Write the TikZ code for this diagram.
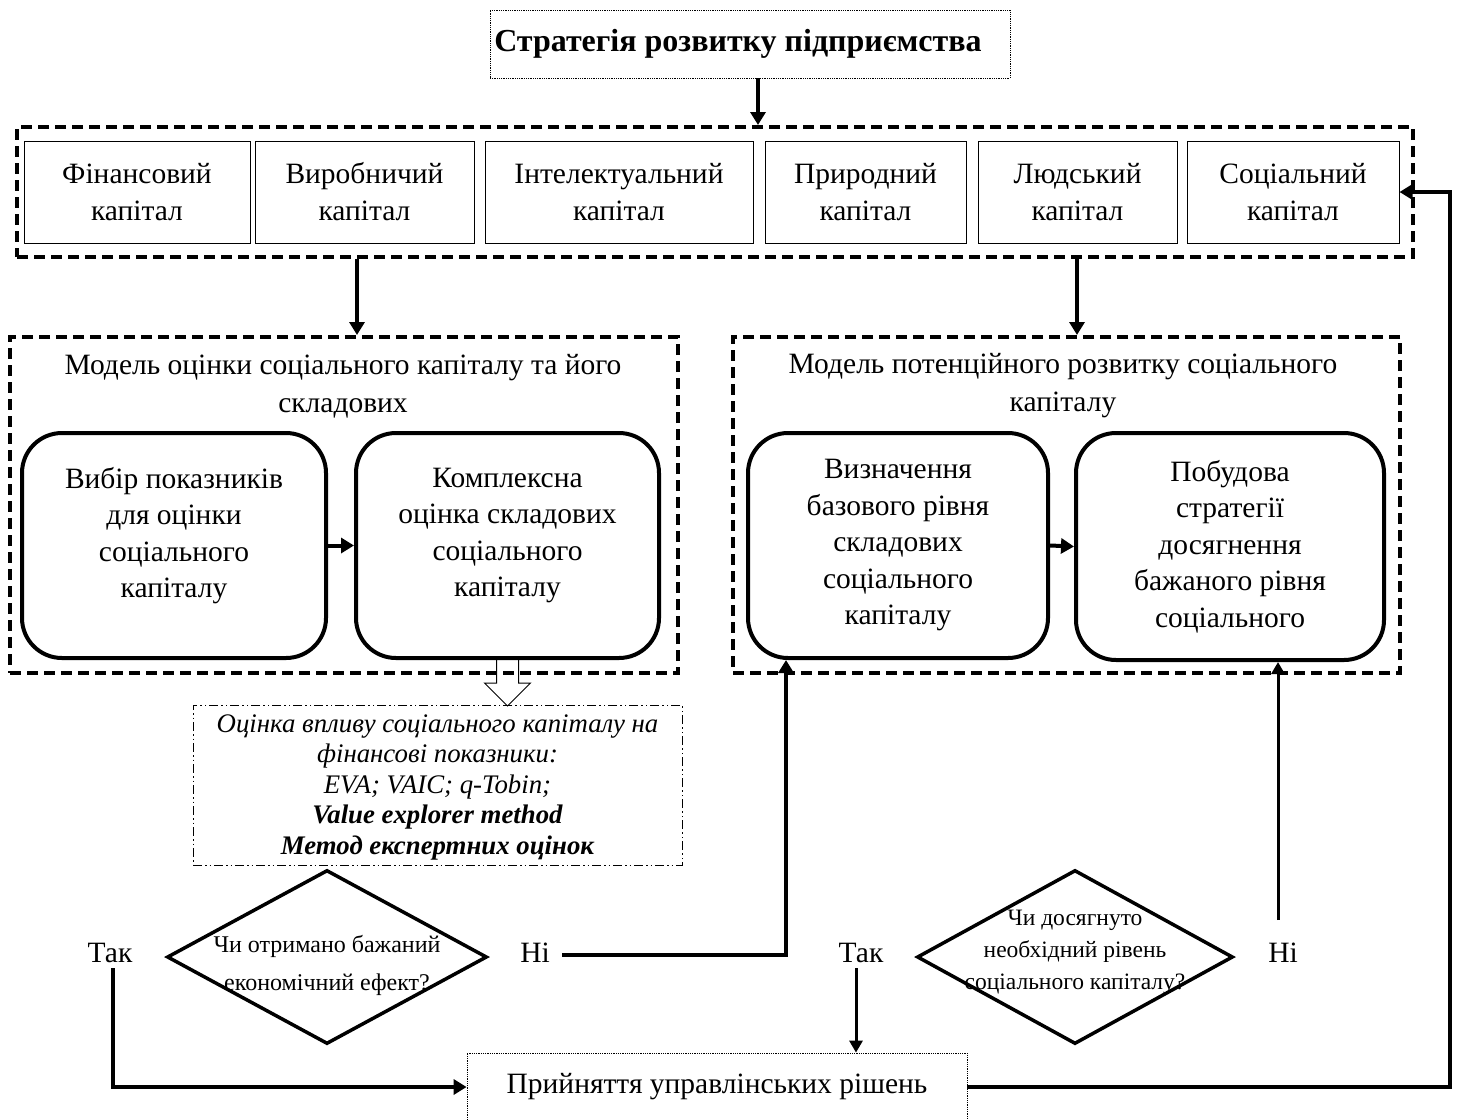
\documentclass[tikz,border=0pt]{standalone}
\usepackage{fontspec}
\setmainfont{Liberation Serif}
\usetikzlibrary{arrows.meta,shapes.geometric,calc}
\tikzset{
  txt/.style={font=\fontsize{29.5}{37}\selectfont, align=center, inner sep=0pt},
  capbox/.style={txt, draw, line width=1pt, minimum height=102pt},
  dotbox/.style={draw, densely dotted, line width=0.8pt, inner sep=0pt},
  dashbox/.style={draw, line width=4pt, dash pattern=on 11pt off 6pt, inner sep=0pt},
  rbox/.style={txt, draw, line width=4pt, rounded corners=40pt, font=\fontsize{29.5}{36.5}\selectfont},
  ddbox/.style={draw, line width=1pt, dash pattern=on 9pt off 3pt on 1.5pt off 3pt on 1.5pt off 3pt, inner sep=0pt},
  diam/.style={diamond, draw, line width=3.5pt, inner sep=0pt, font=\fontsize{24}{38}\selectfont, align=center},
  arr/.style={line width=4pt, -{Triangle[length=13pt,width=15pt]}},
  arrthin/.style={line width=3pt, -{Triangle[length=12pt,width=13pt]}},
}
\begin{document}
\begin{tikzpicture}[x=1pt,y=-1pt]
\useasboundingbox (0,0) rectangle (1458,1119);

% top
\node[dotbox, minimum width=520pt, minimum height=68pt, font=\fontsize{32}{38}\selectfont\bfseries] (top) at (750,44) {\kern-24pt Стратегія розвитку підприємства};

% capitals
\node[dashbox, minimum width=1396pt, minimum height=130pt] (capdash) at (715,192) {};
\node[capbox, minimum width=226pt] (c1) at (137,192) {Фінансовий\\капітал};
\node[capbox, minimum width=219pt] (c2) at (364.5,192) {Виробничий\\капітал};
\node[capbox, minimum width=268pt] (c3) at (619,192) {Інтелектуальний\\капітал};
\node[capbox, minimum width=201pt] (c4) at (865.5,192) {Природний\\капітал};
\node[capbox, minimum width=199pt] (c5) at (1077.5,192) {Людський\\капітал};
\node[capbox, minimum width=212pt] (c6) at (1293,192) {Соціальний\\капітал};

\coordinate (xtop) at (758,0);
\draw[arr] (top.south -| xtop) -- (capdash.north -| xtop);

% models
\node[dashbox, minimum width=668pt, minimum height=336pt] (lmodel) at (344,505) {};
\node[dashbox, minimum width=667pt, minimum height=336pt] (rmodel) at (1066.5,505) {};
\node[txt, font=\fontsize{29.5}{38}\selectfont] (ltitle) at (343,386) {Модель оцінки соціального капіталу та його\\складових};
\node[txt, font=\fontsize{29.5}{38}\selectfont] (rtitle) at (1063,386) {Модель потенційного розвитку соціального\\капіталу};

\coordinate (xl) at (357,0);
\coordinate (xr) at (1077,0);
\draw[arr] (capdash.south -| xl) -- (lmodel.north -| xl);
\draw[arr] (capdash.south -| xr) -- (rmodel.north -| xr);

\node[rbox, minimum width=304pt, minimum height=225pt] (L1) at (174,545.5) {Вибір показників\\для оцінки\\соціального\\капіталу\\[-10pt]};
\node[rbox, minimum width=303pt, minimum height=225pt] (L2) at (507.5,545.5) {Комплексна\\оцінка складових\\соціального\\капіталу\\[-10pt]};
\node[rbox, minimum width=300pt, minimum height=225pt] (R1) at (898,545.5) {Визначення\\базового рівня\\складових\\соціального\\капіталу};
\node[rbox, minimum width=308pt, minimum height=227pt] (R2) at (1230,546.5) {Побудова\\стратегії\\досягнення\\бажаного рівня\\соціального};

\draw[arr] (L1.east) -- (L2.west);
\draw[arr] (R1.east) -- (R2.west);

% hollow block arrow
\draw[line width=1pt, line join=miter] ($(L2.south)+(-11,0)$) -- ++(0,23) -- ++(-12,0) -- ($(L2.south)+(0,46)$) -- ++(23,-23) -- ++(-12,0) -- ++(0,-23);

% dash-dot box
\node[ddbox, minimum width=489pt, minimum height=160pt] (eval) at (437.5,785) {};
\node[txt, font=\fontsize{26.8}{30.5}\selectfont\itshape] (evaltxt) at (437.5,787) {Оцінка впливу соціального капіталу на\\фінансові показники:\\EVA; VAIC; q-Tobin;\\\textbf{Value explorer method}\\\textbf{Метод експертних оцінок}};

% diamonds
\node[diam, minimum width=320pt, minimum height=174pt] (d1) at (327,957) {\makebox[0pt]{Чи отримано бажаний}\\\makebox[0pt]{економічний ефект?}\\[-50pt]};
\node[diam, minimum width=316pt, minimum height=174pt, font=\fontsize{23.5}{32}\selectfont] (d2) at (1075,957) {\makebox[0pt]{Чи досягнуто}\\\makebox[0pt]{необхідний рівень}\\\makebox[0pt]{соціального капіталу?}\\[-18pt]};

\node[txt] (t1) at (110,953) {Так};
\node[txt] (n1) at (535,953) {Ні};
\node[txt] (t2) at (861,953) {Так};
\node[txt] (n2) at (1283,953) {Ні};

% bottom box
\node[dotbox, minimum width=500pt, minimum height=68pt, txt] (bottom) at (717,1087) {Прийняття управлінських рішень};

% connectors
\coordinate (xn1) at (786,0);
\coordinate (xn2) at (1278,0);
\coordinate (xt1) at (113,0);
\coordinate (xt2) at (856,0);
\coordinate (xfb) at (1450,0);
\coordinate (yt) at (0,968);
\coordinate (yn1) at (0,955);
\coordinate (yn2) at (0,920);
\coordinate (xn1s) at (562,0);

\draw[arr] (yn1 -| xn1s) -- (yn1 -| xn1) -- (R1.south -| xn1);
\draw[arrthin] (yn2 -| xn2) -- (R2.south -| xn2);
\draw[arr] (yt -| xt1) -- (bottom.west -| xt1) -- (bottom.west);
\draw[arrthin] (yt -| xt2) -- (bottom.north -| xt2);
\draw[arr] (bottom.east) -- (bottom.east -| xfb) -- (c6.east -| xfb) -- (c6.east);
\end{tikzpicture}
\end{document}
